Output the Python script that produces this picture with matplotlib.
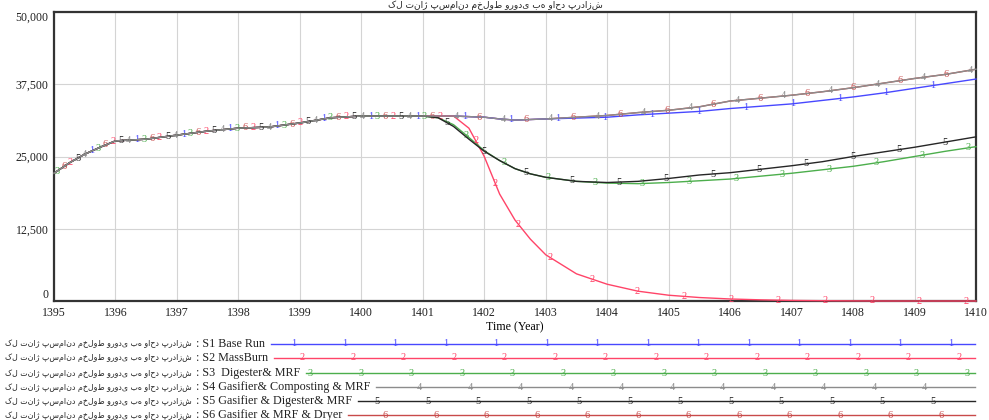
import numpy as np
import matplotlib
matplotlib.use("Agg")
import matplotlib.pyplot as plt

# ---------------- data ----------------
years = [1395, 1395.25, 1395.5, 1395.75, 1396, 1396.5, 1397, 1397.5, 1398, 1398.5,
         1399, 1399.5, 1400, 1400.5, 1401, 1401.25, 1401.5, 1401.75, 1402, 1402.25,
         1402.5, 1402.75, 1403, 1403.5, 1404, 1404.5, 1405, 1405.5, 1406, 1406.5,
         1407, 1407.5, 1408, 1408.5, 1409, 1409.5, 1410]

s1 = [22100, 23900, 25400, 26600, 27700, 28000, 28700, 29400, 29900, 30100,
      30800, 31700, 32000, 32000, 32000, 32000, 32000, 31900, 31800, 31500,
      31300, 31400, 31500, 31650, 31800, 32200, 32500, 32800, 33300, 33700,
      34100, 34700, 35300, 36000, 36800, 37600, 38400]
s2 = [22100, 23900, 25400, 26600, 27700, 28000, 28700, 29400, 29900, 30100,
      30800, 31700, 32000, 32000, 32000, 32000, 32000, 29900, 25000, 18500,
      14000, 10700, 8000, 4700, 2900, 1700, 1000, 600, 350, 200,
      100, 50, 20, 0, 0, 0, 0]
s3 = [22100, 23900, 25400, 26600, 27700, 28000, 28700, 29400, 29900, 30100,
      30800, 31700, 32000, 32000, 32000, 31700, 30500, 28300, 26000, 24300,
      22900, 22000, 21400, 20700, 20400, 20300, 20500, 20800, 21100, 21600,
      22100, 22700, 23300, 24100, 25000, 25900, 26700]
s4 = [22100, 23900, 25400, 26600, 27700, 28000, 28700, 29400, 29900, 30100,
      30800, 31700, 32000, 32000, 32000, 32000, 32000, 31900, 31800, 31500,
      31300, 31400, 31500, 31800, 32100, 32600, 33000, 33600, 34600, 35100,
      35600, 36200, 36900, 37700, 38500, 39200, 40100]
s5 = [22100, 23900, 25400, 26600, 27700, 28000, 28700, 29400, 29900, 30100,
      30800, 31700, 32000, 32000, 32000, 31700, 30200, 28000, 25900, 24300,
      22900, 22000, 21400, 20700, 20500, 20700, 21200, 21800, 22200, 22800,
      23400, 24100, 25000, 25800, 26600, 27500, 28400]
s6 = [22100, 23900, 25400, 26600, 27700, 28000, 28700, 29400, 29900, 30100,
      30800, 31700, 32000, 32000, 32000, 32000, 32000, 31900, 31800, 31500,
      31300, 31400, 31500, 31800, 32100, 32600, 33000, 33600, 34600, 35100,
      35600, 36200, 36900, 37700, 38500, 39200, 40100]

series_values = [s1, s2, s3, s4, s5, s6]
series_ids = ["1", "2", "3", "4", "5", "6"]
variable_name = "کل تناژ پسماند مخلوط ورودی به واحد پردازش"
scenario_names = ["S1 Base Run", "S2 MassBurn", "S3  Digester& MRF",
                  "S4 Gasifier& Composting & MRF", "S5 Gasifier & Digester& MRF",
                  "S6 Gasifier & MRF & Dryer"]
x_ticks = list(range(1395, 1411))
y_ticks = [0, 12500, 25000, 37500, 50000]
y_tick_labels = ["0", "12,500", "25,000", "37,500", "50,000"]
x_label = "Time (Year)"
title_text = variable_name

# ---------------- style ----------------
colors = ["#4848ff", "#ff4468", "#4cae4c", "#8c8c8c", "#262626", "#c84a4a"]
zorders = [3, 3, 3, 5, 4, 2]
marker_offsets = [44, 20, 4, 36, 28, 12]
serif = ["Liberation Serif", "DejaVu Sans"]

W, H = 989, 420
fig = plt.figure(figsize=(W / 100, H / 100), dpi=100)
ax_left, ax_right, ax_top, ax_bottom = 54, 976, 12, 301
ax = fig.add_axes([ax_left / W, 1 - ax_bottom / H, (ax_right - ax_left) / W,
                   (ax_bottom - ax_top) / H])
ax.set_xlim(1395, 1410)
ax.set_ylim(0, 50000)
ax.set_xticks(x_ticks)
ax.set_yticks(y_ticks)
ax.set_xticklabels([str(t) for t in x_ticks], fontfamily=serif, fontsize=8.6)
ax.set_yticklabels(y_tick_labels, fontfamily=serif, fontsize=8.6)
ax.tick_params(length=0, pad=4, colors="#222222")
ylabs = ax.get_yticklabels()
ylabs[0].set_va("bottom")
ylabs[-1].set_va("top")
ax.grid(True, color="#d4d4d4", linewidth=0.8)
ax.set_axisbelow(True)
for sp in ax.spines.values():
    sp.set_linewidth(1.6)
    sp.set_color("#333333")
ax.set_xlabel(x_label, fontfamily=serif, fontsize=8.6, labelpad=2)

SPACING = 47.0
fig.canvas.draw()
for vals, sid, col, zo, off in zip(series_values, series_ids, colors, zorders, marker_offsets):
    ax.plot(years, vals, color=col, lw=1.0, zorder=zo, clip_on=False)
    pts = ax.transData.transform(np.column_stack([years, vals]))
    seg = np.hypot(np.diff(pts[:, 0]), np.diff(pts[:, 1]))
    cum = np.concatenate([[0.0], np.cumsum(seg)])
    s = np.arange(off, cum[-1] + 1, SPACING)
    px = np.interp(s, cum, pts[:, 0])
    py = np.interp(s, cum, pts[:, 1])
    md = ax.transData.inverted().transform(np.column_stack([px, py]))
    for mx, my in md:
        ax.text(mx, my, sid, color=col, fontsize=7.5, fontfamily=serif,
                ha="center", va="center", zorder=zo + 1, clip_on=False)

# title at the top edge
fig.text(495 / W, 1.0, title_text, ha="center", va="top",
         fontsize=6.5, fontfamily=["DejaVu Sans"], color="#222222")

# ---------------- legend rows ----------------
lax = fig.add_axes([0, 0, 1, 1])
lax.set_xlim(0, W)
lax.set_ylim(H, 0)
lax.axis("off")
lax.patch.set_visible(False)
row_y = [344, 358, 373, 387, 401, 415]
renderer = fig.canvas.get_renderer()
leg_first = 496.0
leg_step = 50.5
line_end = 975
for i, (name, sid, col) in enumerate(zip(scenario_names, series_ids, colors)):
    y = row_y[i]
    tp = lax.text(5, y, variable_name, fontsize=5.7, fontfamily=["DejaVu Sans"],
                  ha="left", va="center", color="#222222")
    bp = tp.get_window_extent(renderer=renderer)
    t = lax.text(bp.x1 + 1, y, f" : {name}", fontsize=8.7, fontfamily=serif,
                 ha="left", va="center", color="#222222")
    bb = t.get_window_extent(renderer=renderer)
    x0 = bb.x1 + 6
    lax.plot([x0, line_end], [y, y], color=col, lw=1.0)
    first = leg_first + 8.2 * i
    k0 = int(np.floor((first - x0) / leg_step)) + 1
    mk = first - k0 * leg_step
    while mk <= line_end - 4:
        if mk >= x0 + 4:
            lax.text(mk, y, sid, color=col, fontsize=7.5, fontfamily=serif,
                     ha="center", va="center")
        mk += leg_step

fig.savefig("out.png", dpi=100)
